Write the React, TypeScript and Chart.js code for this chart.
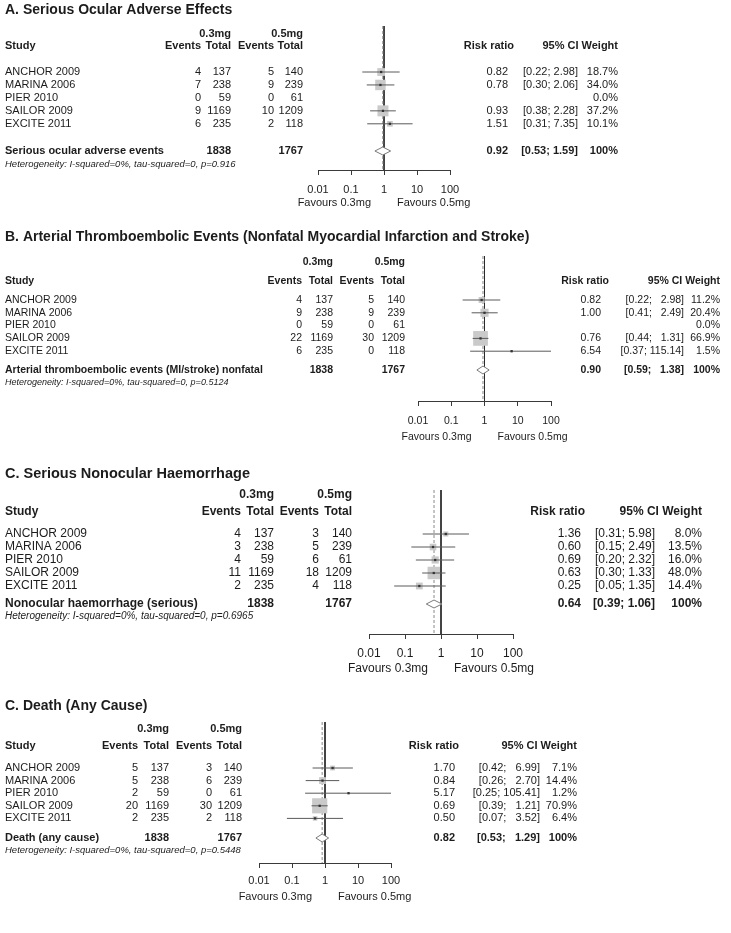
import React, { useEffect, useRef } from 'react';
import { Chart, registerables } from 'chart.js';
Chart.register(...registerables);

const W = 731;
const FF = "'Liberation Sans', Arial, Helvetica, sans-serif";

// ---------- shared data ----------
const studies = ['ANCHOR 2009', 'MARINA 2006', 'PIER 2010', 'SAILOR 2009', 'EXCITE 2011'];
const total03 = [137, 238, 59, 1169, 235];
const total05 = [140, 239, 61, 1209, 118];
const sumTotals = [1838, 1767];
const tickValues = [0.01, 0.1, 1, 10, 100];
const tickLabels = ['0.01', '0.1', '1', '10', '100'];
const groupLabels = ['0.3mg', '0.5mg'];
const favoursLabels = ['Favours 0.3mg', 'Favours 0.5mg'];

// ---------- panel A ----------
const aTitle = 'A. Serious Ocular Adverse Effects';
const aSummaryLabel = 'Serious ocular adverse events';
const aEvents03 = [4, 7, 0, 9, 6];
const aEvents05 = [5, 9, 0, 10, 2];
const aRR = [0.82, 0.78, null, 0.93, 1.51];
const aLo = [0.22, 0.30, null, 0.38, 0.31];
const aHi = [2.98, 2.06, null, 2.28, 7.35];
const aWeight = [18.7, 34.0, 0.0, 37.2, 10.1];
const aSummary = [0.92, 0.53, 1.59];
const aP = '0.916';

// ---------- panel B ----------
const bTitle = 'B. Arterial Thromboembolic Events (Nonfatal Myocardial Infarction and Stroke)';
const bSummaryLabel = 'Arterial thromboembolic events (MI/stroke) nonfatal';
const bEvents03 = [4, 9, 0, 22, 6];
const bEvents05 = [5, 9, 0, 30, 0];
const bRR = [0.82, 1.0, null, 0.76, 6.54];
const bLo = [0.22, 0.41, null, 0.44, 0.37];
const bHi = [2.98, 2.49, null, 1.31, 115.14];
const bWeight = [11.2, 20.4, 0.0, 66.9, 1.5];
const bSummary = [0.9, 0.59, 1.38];
const bP = '0.5124';

// ---------- panel C ----------
const cTitle = 'C. Serious Nonocular Haemorrhage';
const cSummaryLabel = 'Nonocular haemorrhage (serious)';
const cEvents03 = [4, 3, 4, 11, 2];
const cEvents05 = [3, 5, 6, 18, 4];
const cRR = [1.36, 0.6, 0.69, 0.63, 0.25];
const cLo = [0.31, 0.15, 0.2, 0.3, 0.05];
const cHi = [5.98, 2.49, 2.32, 1.33, 1.35];
const cWeight = [8.0, 13.5, 16.0, 48.0, 14.4];
const cSummary = [0.64, 0.39, 1.06];
const cP = '0.6965';

// ---------- panel D ----------
const dTitle = 'C. Death (Any Cause)';
const dSummaryLabel = 'Death (any cause)';
const dEvents03 = [5, 5, 2, 20, 2];
const dEvents05 = [3, 6, 0, 30, 2];
const dRR = [1.7, 0.84, 5.17, 0.69, 0.5];
const dLo = [0.42, 0.26, 0.25, 0.39, 0.07];
const dHi = [6.99, 2.7, 105.41, 1.21, 3.52];
const dWeight = [7.1, 14.4, 1.2, 70.9, 6.4];
const dSummary = [0.82, 0.53, 1.29];
const dP = '0.5448';

type PanelData = {
  title: string; summaryLabel: string;
  ev03: number[]; ev05: number[];
  rr: (number | null)[]; lo: (number | null)[]; hi: (number | null)[];
  w: number[]; sum: number[]; p: string;
};

type Layout = {
  top: number; height: number;
  font: number; titleFont: number; hetFont: number;
  titleY: number; hdr1Y: number; hdr2Y: number; firstRowY: number; rowGap: number;
  summaryY: number; hetY: number; linesTopY: number; axisY: number; tickLabelY: number; favoursY: number;
  labelX: number; ev1X: number; tot1X: number; ev2X: number; tot2X: number;
  axisL: number; axisR: number; rrHdrX: number; rrX: number; ciX: number; wX: number;
};

const layoutA: Layout = {
  top: 0, height: 215, font: 11, titleFont: 14, hetFont: 9.5,
  titleY: 10, hdr1Y: 34, hdr2Y: 46, firstRowY: 72, rowGap: 12.95,
  summaryY: 151, hetY: 164, linesTopY: 26, axisY: 170, tickLabelY: 190, favoursY: 203,
  labelX: 5, ev1X: 201, tot1X: 231, ev2X: 274, tot2X: 303,
  axisL: 318, axisR: 450, rrHdrX: 514, rrX: 508, ciX: 578, wX: 618,
};
const layoutB: Layout = {
  top: 215, height: 237, font: 10.5, titleFont: 14, hetFont: 9,
  titleY: 237, hdr1Y: 262, hdr2Y: 281, firstRowY: 300, rowGap: 12.8,
  summaryY: 370, hetY: 382, linesTopY: 256, axisY: 401, tickLabelY: 421, favoursY: 437,
  labelX: 5, ev1X: 302, tot1X: 333, ev2X: 374, tot2X: 405,
  axisL: 418, axisR: 551, rrHdrX: 609, rrX: 601, ciX: 684, wX: 720,
};
const layoutC: Layout = {
  top: 452, height: 233, font: 12, titleFont: 14.5, hetFont: 10,
  titleY: 474, hdr1Y: 495, hdr2Y: 512, firstRowY: 534, rowGap: 13.0,
  summaryY: 604, hetY: 616, linesTopY: 490, axisY: 634, tickLabelY: 654, favoursY: 669,
  labelX: 5, ev1X: 241, tot1X: 274, ev2X: 319, tot2X: 352,
  axisL: 369, axisR: 513, rrHdrX: 585, rrX: 581, ciX: 655, wX: 702,
};
const layoutD: Layout = {
  top: 685, height: 248, font: 11, titleFont: 14, hetFont: 9.5,
  titleY: 706, hdr1Y: 729, hdr2Y: 746, firstRowY: 768, rowGap: 12.6,
  summaryY: 838, hetY: 850, linesTopY: 722, axisY: 863, tickLabelY: 881, favoursY: 897,
  labelX: 5, ev1X: 138, tot1X: 169, ev2X: 212, tot2X: 242,
  axisL: 259, axisR: 391, rrHdrX: 459, rrX: 455, ciX: 540, wX: 577,
};

const panels: { d: PanelData; L: Layout }[] = [
  { d: { title: aTitle, summaryLabel: aSummaryLabel, ev03: aEvents03, ev05: aEvents05, rr: aRR, lo: aLo, hi: aHi, w: aWeight, sum: aSummary, p: aP }, L: layoutA },
  { d: { title: bTitle, summaryLabel: bSummaryLabel, ev03: bEvents03, ev05: bEvents05, rr: bRR, lo: bLo, hi: bHi, w: bWeight, sum: bSummary, p: bP }, L: layoutB },
  { d: { title: cTitle, summaryLabel: cSummaryLabel, ev03: cEvents03, ev05: cEvents05, rr: cRR, lo: cLo, hi: cHi, w: cWeight, sum: cSummary, p: cP }, L: layoutC },
  { d: { title: dTitle, summaryLabel: dSummaryLabel, ev03: dEvents03, ev05: dEvents05, rr: dRR, lo: dLo, hi: dHi, w: dWeight, sum: dSummary, p: dP }, L: layoutD },
];

function makeChart(canvas: HTMLCanvasElement, d: PanelData, L: Layout) {
  const rowOf = (py: number) => 1 + (py - L.firstRowY) / L.rowGap;
  const yMin = rowOf(L.linesTopY);
  const yMax = rowOf(L.axisY);
  const sRow = rowOf(L.summaryY);
  const dh = 4 / L.rowGap;

  const hiStrs = d.hi.map((v) => (v == null ? '' : v.toFixed(2)));
  const maxHi = Math.max(...hiStrs.map((s) => s.length), d.sum[2].toFixed(2).length);
  const ciStr = (lo: number, hi: number) => `[${lo.toFixed(2)}; ${hi.toFixed(2).padStart(maxHi, ' ')}]`;

  const datasets: any[] = [];
  datasets.push({ type: 'line', data: [{ x: 1, y: yMin }, { x: 1, y: yMax }], borderColor: '#2a2a2a', borderWidth: 1, pointRadius: 0, order: 30 });
  datasets.push({ type: 'line', data: [{ x: d.sum[0], y: yMin }, { x: d.sum[0], y: yMax }], borderColor: '#8a8a8a', borderWidth: 1, borderDash: [3, 2], pointRadius: 0, order: 29 });
  const pts = d.rr.map((v, i) => (v == null ? null : { x: v, y: i + 1, w: d.w[i] })).filter(Boolean);
  datasets.push({
    type: 'scatter', data: pts, pointStyle: 'rect', backgroundColor: '#cacaca', borderWidth: 0,
    pointRadius: (c: any) => (1.8 * Math.sqrt(c.raw ? c.raw.w : 0)) / Math.SQRT2, order: 20,
  });
  d.rr.forEach((v, i) => {
    if (v == null) return;
    datasets.push({ type: 'line', data: [{ x: d.lo[i], y: i + 1 }, { x: d.hi[i], y: i + 1 }], borderColor: '#5a5a5a', borderWidth: 1, pointRadius: 0, order: 10 });
  });
  datasets.push({ type: 'scatter', data: pts, pointStyle: 'rect', backgroundColor: '#333', borderWidth: 0, pointRadius: 1.6, order: 5 });
  datasets.push({
    type: 'line',
    data: [
      { x: d.sum[1], y: sRow }, { x: d.sum[0], y: sRow - dh }, { x: d.sum[2], y: sRow },
      { x: d.sum[0], y: sRow + dh }, { x: d.sum[1], y: sRow },
    ],
    borderColor: '#7a7a7a', backgroundColor: '#ffffff', borderWidth: 1, pointRadius: 0, fill: 'shape', tension: 0, order: 1,
  });

  const textPlugin = {
    id: 'forestText',
    afterDraw(chart: any) {
      const ctx = chart.ctx as CanvasRenderingContext2D;
      const ys = chart.scales.y;
      const xs = chart.scales.x;
      const reg = `${L.font}px ${FF}`;
      const bold = `bold ${L.font}px ${FF}`;
      const t = (s: string, x: number, row: number, font: string, align: CanvasTextAlign) => {
        ctx.font = font;
        ctx.textAlign = align;
        ctx.fillText(s, x, ys.getPixelForValue(row));
      };
      ctx.save();
      ctx.fillStyle = '#1c1c1c';
      ctx.textBaseline = 'middle';
      t(d.title, L.labelX, rowOf(L.titleY), `bold ${L.titleFont}px ${FF}`, 'left');
      t(groupLabels[0], L.tot1X, rowOf(L.hdr1Y), bold, 'right');
      t(groupLabels[1], L.tot2X, rowOf(L.hdr1Y), bold, 'right');
      const h2 = rowOf(L.hdr2Y);
      t('Study', L.labelX, h2, bold, 'left');
      t('Events', L.ev1X, h2, bold, 'right');
      t('Total', L.tot1X, h2, bold, 'right');
      t('Events', L.ev2X, h2, bold, 'right');
      t('Total', L.tot2X, h2, bold, 'right');
      t('Risk ratio', L.rrHdrX, h2, bold, 'right');
      t('95% CI Weight', L.wX, h2, bold, 'right');
      studies.forEach((s, i) => {
        const r = i + 1;
        t(s, L.labelX, r, reg, 'left');
        t(String(d.ev03[i]), L.ev1X, r, reg, 'right');
        t(String(total03[i]), L.tot1X, r, reg, 'right');
        t(String(d.ev05[i]), L.ev2X, r, reg, 'right');
        t(String(total05[i]), L.tot2X, r, reg, 'right');
        const rr = d.rr[i];
        if (rr != null) {
          t(rr.toFixed(2), L.rrX, r, reg, 'right');
          t(ciStr(d.lo[i] as number, d.hi[i] as number), L.ciX, r, reg, 'right');
        }
        t(d.w[i].toFixed(1) + '%', L.wX, r, reg, 'right');
      });
      t(d.summaryLabel, L.labelX, sRow, bold, 'left');
      t(String(sumTotals[0]), L.tot1X, sRow, bold, 'right');
      t(String(sumTotals[1]), L.tot2X, sRow, bold, 'right');
      t(d.sum[0].toFixed(2), L.rrX, sRow, bold, 'right');
      t(ciStr(d.sum[1], d.sum[2]), L.ciX, sRow, bold, 'right');
      t('100%', L.wX, sRow, bold, 'right');
      t(`Heterogeneity: I-squared=0%, tau-squared=0, p=${d.p}`, L.labelX, rowOf(L.hetY), `italic ${L.hetFont}px ${FF}`, 'left');
      const nx = xs.getPixelForValue(1);
      const fy = rowOf(L.favoursY);
      t(favoursLabels[0], nx - 13, fy, reg, 'right');
      t(favoursLabels[1], nx + 13, fy, reg, 'left');
      ctx.restore();
    },
  };

  return new Chart(canvas, {
    type: 'scatter',
    data: { datasets },
    options: {
      animation: false,
      responsive: false,
      devicePixelRatio: 1,
      events: [],
      layout: { padding: { left: L.axisL, right: W - L.axisR, top: L.linesTopY - L.top, bottom: 0 } },
      plugins: { legend: { display: false }, tooltip: { enabled: false } },
      scales: {
        x: {
          type: 'logarithmic', min: 0.01, max: 100, position: 'bottom',
          afterBuildTicks: (s: any) => { s.ticks = tickValues.map((v) => ({ value: v })); },
          afterFit: (s: any) => { s.height = L.top + L.height - L.axisY; },
          ticks: {
            autoSkip: false, maxRotation: 0, color: '#1c1c1c',
            font: { family: FF, size: L.font },
            padding: L.tickLabelY - L.axisY - 5 - L.font * 0.6,
            callback: (_v: any, i: number) => tickLabels[i],
          },
          grid: { drawOnChartArea: false, drawTicks: true, tickLength: 5, color: '#3a3a3a' },
          border: { display: true, color: '#3a3a3a', width: 1 },
        },
        y: { type: 'linear', display: false, min: yMin, max: yMax, reverse: true },
      },
    },
    plugins: [textPlugin],
  } as any);
}

function Panel({ d, L }: { d: PanelData; L: Layout }) {
  const ref = useRef<HTMLCanvasElement>(null);
  useEffect(() => {
    if (!ref.current) return;
    const ch = makeChart(ref.current, d, L);
    return () => ch.destroy();
  }, []);
  return (
    <canvas
      ref={ref}
      width={W}
      height={L.height}
      style={{ position: 'absolute', left: 0, top: L.top, width: W, height: L.height }}
    />
  );
}

export default function App() {
  return (
    <div style={{ position: 'absolute', left: 0, top: 0, width: W, height: 933, background: '#fff', overflow: 'hidden' }}>
      {panels.map((p, i) => (
        <Panel key={i} d={p.d} L={p.L} />
      ))}
    </div>
  );
}
